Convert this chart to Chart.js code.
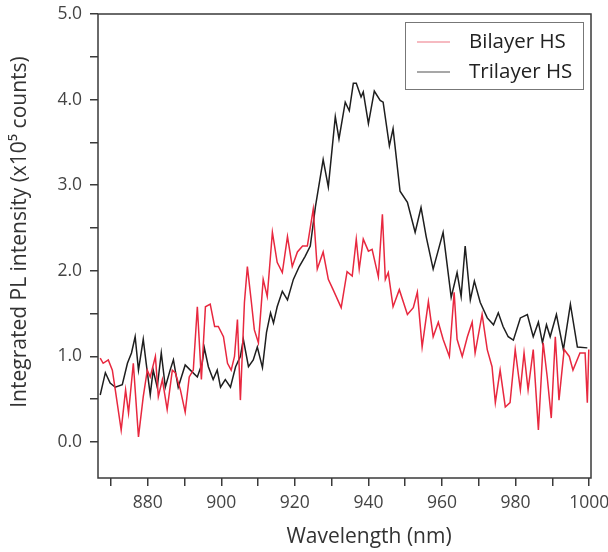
<!DOCTYPE html>
<html>
<head>
<meta charset="utf-8">
<script src="https://cdn.jsdelivr.net/npm/chart.js@4/dist/chart.umd.min.js"></script>
<style>
  html, body { margin: 0; padding: 0; background: #fff; }
  canvas { display: block; }
</style>
</head>
<body>
<canvas id="plChart" width="608" height="552"></canvas>
<script>
// Bilayer HS (red) - wavelength (nm) and intensity (x10^5 counts)
const bilayerX = [867.1,867.9,869.3,870.4,871.2,872.8,874.0,874.8,876.1,877.5,878.8,879.9,880.7,882.1,882.9,884.0,885.3,886.7,887.5,888.9,890.2,891.3,892.4,893.5,894.6,895.7,897.0,898.2,899.2,900.6,901.7,902.7,903.6,904.4,905.2,906.3,907.1,908.2,909.0,910.1,911.4,912.5,913.9,915.2,916.6,918.0,919.3,920.7,922.1,923.4,925.0,926.1,927.7,929.1,930.4,932.6,934.2,935.6,936.7,937.5,938.6,940.0,941.0,942.7,943.8,944.6,945.4,946.7,948.4,950.6,952.2,953.3,954.6,956.3,957.6,959.0,960.3,962.0,963.3,964.1,965.5,966.9,968.2,969.0,970.9,972.3,973.6,974.5,975.8,977.2,978.5,979.9,981.3,982.3,983.4,984.8,986.2,987.5,988.6,989.7,990.8,991.8,993.2,994.6,995.6,997.5,998.9,999.5,999.9];
const bilayerY = [0.98,0.92,0.96,0.84,0.61,0.14,0.61,0.34,0.92,0.06,0.53,0.84,0.76,1.00,0.53,0.73,0.38,0.84,0.81,0.61,0.35,0.76,0.84,1.58,0.73,1.58,1.61,1.35,1.35,1.23,0.92,0.84,1.00,1.43,0.49,1.63,2.05,1.63,1.31,1.16,1.90,1.70,2.45,2.10,1.98,2.40,2.05,2.22,2.29,2.29,2.72,2.02,2.22,1.90,1.78,1.57,1.99,1.94,2.37,2.02,2.37,2.23,2.25,1.93,2.66,1.90,1.98,1.58,1.78,1.49,1.57,1.75,1.11,1.64,1.23,1.40,1.20,1.00,1.75,1.20,1.00,1.23,1.40,1.04,1.49,1.08,0.88,0.46,0.84,0.41,0.46,1.08,0.61,1.04,0.61,1.08,0.14,1.16,0.76,0.28,1.23,0.49,1.08,1.00,0.84,1.04,1.04,0.46,1.08];

// Trilayer HS (black)
const trilayerX = [867.1,868.5,869.8,871.2,873.1,874.5,875.6,876.6,877.5,878.8,879.6,880.7,881.5,882.6,883.7,884.8,886.1,887.0,888.3,890.2,891.6,893.5,894.8,895.4,896.5,897.8,898.9,899.8,901.1,902.5,903.9,905.2,906.0,907.4,908.7,909.8,911.2,912.3,913.4,914.2,915.2,916.6,918.0,919.6,921.2,922.8,924.2,925.6,927.7,929.1,931.0,932.0,933.7,934.8,935.9,936.7,938.0,938.6,940.0,941.6,943.2,944.0,945.7,946.7,948.6,950.6,952.7,954.3,955.7,957.6,960.3,962.5,964.1,965.2,966.3,967.7,968.8,970.4,972.3,974.0,975.3,976.6,978.0,979.4,981.3,983.2,984.8,986.2,987.3,988.4,989.4,991.1,993.0,994.9,996.8,999.5];
const trilayerY = [0.55,0.81,0.69,0.64,0.67,0.92,1.04,1.23,0.84,1.20,0.92,0.55,0.84,0.64,1.04,0.64,0.84,0.96,0.64,0.90,0.84,0.76,0.92,1.10,0.88,0.73,0.84,0.64,0.73,0.64,0.88,1.00,1.20,0.88,0.96,1.11,0.87,1.28,1.51,1.39,1.58,1.76,1.66,1.90,2.05,2.17,2.29,2.75,3.30,2.98,3.80,3.54,3.97,3.87,4.19,4.19,4.03,4.09,3.72,4.10,3.99,3.97,3.46,3.66,2.93,2.80,2.45,2.74,2.40,2.02,2.45,1.69,1.98,1.70,2.29,1.66,1.88,1.63,1.45,1.37,1.51,1.35,1.23,1.19,1.45,1.49,1.23,1.40,1.16,1.37,1.23,1.49,1.08,1.61,1.11,1.10];

// axis ticks
const xTicks = [870,880,890,900,910,920,930,940,950,960,970,980,990,1000];
const xLabelTicks = [880,900,920,940,960,980,1000];
const yTicks = [0,0.5,1,1.5,2,2.5,3,3.5,4,4.5,5];
const yLabelTicks = [0,1,2,3,4,5];

const seriesNames = ["Bilayer HS", "Trilayer HS"];

const toPoints = (xs, ys) => xs.map((x, i) => ({ x: x, y: ys[i] }));

// frame box + legend box + axis titles
const framePlugin = {
    id: "framePlugin",
    afterDraw(chart) {
        const ctx = chart.ctx;
        const a = chart.chartArea;
        ctx.save();
        ctx.strokeStyle = "#3a3a3a";
        ctx.lineWidth = 1.5;
        ctx.strokeRect(a.left, a.top, a.right - a.left, a.bottom - a.top);

        // legend
        const bx = a.right - 186, by = a.top + 8, bw = 178, bh = 67;
        ctx.fillStyle = "#fff";
        ctx.fillRect(bx, by, bw, bh);
        ctx.strokeStyle = "#777";
        ctx.lineWidth = 1;
        ctx.strokeRect(bx + 0.5, by + 0.5, bw, bh);
        const legendColors = ["#f3a3ad", "#8a8a8a"];
        ctx.font = "20.5px 'Open Sans'";
        ctx.textBaseline = "middle";
        seriesNames.forEach((name, i) => {
            const y = by + 20 + i * 30;
            ctx.strokeStyle = legendColors[i];
            ctx.lineWidth = 1.5;
            ctx.beginPath();
            ctx.moveTo(bx + 12, y);
            ctx.lineTo(bx + 45, y);
            ctx.stroke();
            ctx.fillStyle = "#222";
            ctx.fillText(name, bx + 64, y);
        });

        // axis titles
        ctx.fillStyle = "#333";
        ctx.font = "21px 'Open Sans'";
        ctx.textAlign = "center";
        ctx.fillText("Wavelength (nm)", 369, 537);
        ctx.translate(20, 232);
        ctx.rotate(-Math.PI / 2);
        ctx.fillText("Integrated PL intensity (x10\u2075 counts)", 0, 0);
        ctx.restore();
    }
};

document.addEventListener("DOMContentLoaded", () => {
    const ctx = document.getElementById("plChart").getContext("2d");
    new Chart(ctx, {
        type: "line",
        data: {
            datasets: [
                {
                    label: seriesNames[0],
                    data: toPoints(bilayerX, bilayerY),
                    borderColor: "#e8283f",
                    borderWidth: 1.5,
                    pointRadius: 0,
                    tension: 0
                },
                {
                    label: seriesNames[1],
                    data: toPoints(trilayerX, trilayerY),
                    borderColor: "#1e1e1e",
                    borderWidth: 1.5,
                    pointRadius: 0,
                    tension: 0
                }
            ]
        },
        options: {
            responsive: false,
            animation: false,
            layout: { padding: { top: 14, right: 17, left: 0, bottom: 0 } },
            plugins: {
                legend: { display: false },
                tooltip: { enabled: false }
            },
            scales: {
                x: {
                    type: "linear",
                    min: 866.5,
                    max: 1000.5,
                    afterBuildTicks: (scale) => { scale.ticks = xTicks.map(v => ({ value: v })); },
                    afterFit: (scale) => {
                        scale.height = 74;
                        scale.paddingLeft = 0;
                        scale.paddingRight = 0;
                    },
                    border: { display: false },
                    grid: { drawOnChartArea: false, drawTicks: true, tickLength: 8, color: "#3a3a3a", lineWidth: 1.5 },
                    ticks: {
                        autoSkip: false,
                        maxRotation: 0,
                        padding: 7,
                        color: "#444",
                        font: { family: "'Open Sans'", size: 17.5 },
                        callback: (v) => xLabelTicks.includes(v) ? String(v) : ""
                    }
                },
                y: {
                    type: "linear",
                    min: -0.42,
                    max: 5.0,
                    afterBuildTicks: (scale) => { scale.ticks = yTicks.map(v => ({ value: v })); },
                    afterFit: (scale) => {
                        scale.width = 98;
                        scale.paddingTop = 0;
                        scale.paddingBottom = 0;
                    },
                    border: { display: false },
                    grid: { drawOnChartArea: false, drawTicks: true, tickLength: 8, color: "#3a3a3a", lineWidth: 1.5 },
                    ticks: {
                        autoSkip: false,
                        padding: 8,
                        color: "#444",
                        font: { family: "'Open Sans'", size: 17.5 },
                        callback: (v) => yLabelTicks.includes(v) ? v.toFixed(1) : ""
                    }
                }
            }
        },
        plugins: [framePlugin]
    });
});
</script>
</body>
</html>
